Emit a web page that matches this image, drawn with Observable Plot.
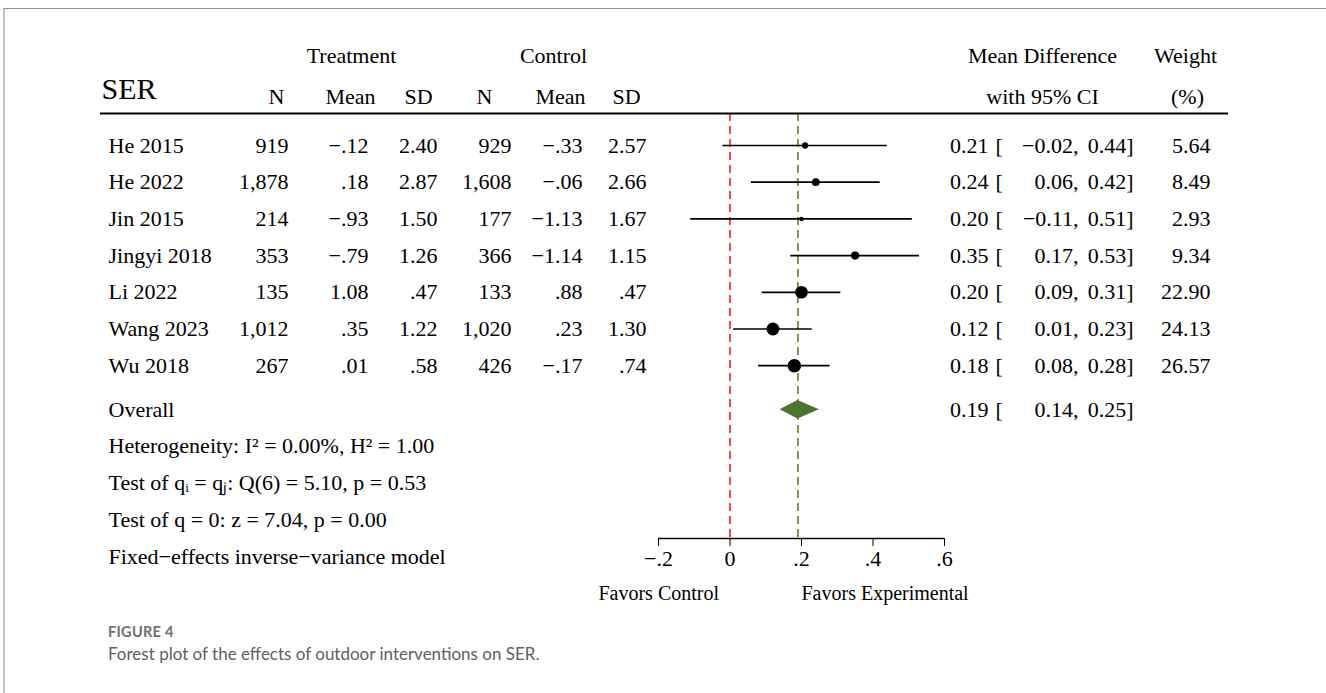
<!DOCTYPE html>
<html>
<head>
<meta charset="utf-8">
<script src="https://cdn.jsdelivr.net/npm/d3@7"></script>
<script src="https://cdn.jsdelivr.net/npm/@observablehq/plot@0.6"></script>
<style>
  html, body { margin: 0; padding: 0; background: #fff; }
  body { width: 1326px; height: 693px; position: relative; overflow: hidden; }
  #frame { position: absolute; left: 3px; top: 8px; width: 1323px; height: 685px;
           border-top: 1.5px solid #8e8e8e; border-left: 2px solid #c4c4c4; box-sizing: border-box; }
  #chart { position: absolute; left: 0; top: 0; }
  .fig { position: absolute; left: 108px; font-family: Lato, "Open Sans", sans-serif; color: #6a6a6a; }
  #figlabel { top: 623px; font-size: 14.5px; font-weight: 700; letter-spacing: 0.3px; color: #707070; }
  #figtext { top: 643px; font-size: 17px; color: #606060; }
</style>
</head>
<body>
<div id="frame"></div>
<div id="chart"></div>
<div class="fig" id="figlabel">FIGURE 4</div>
<div class="fig" id="figtext">Forest plot of the effects of outdoor interventions on SER.</div>
<script>
// ---------- data ----------
const studies = ["He 2015", "He 2022", "Jin 2015", "Jingyi 2018", "Li 2022", "Wang 2023", "Wu 2018"];
const treatN    = [919, 1878, 214, 353, 135, 1012, 267];
const treatMean = [-0.12, 0.18, -0.93, -0.79, 1.08, 0.35, 0.01];
const treatSD   = [2.40, 2.87, 1.50, 1.26, 0.47, 1.22, 0.58];
const ctrlN     = [929, 1608, 177, 366, 133, 1020, 426];
const ctrlMean  = [-0.33, -0.06, -1.13, -1.14, 0.88, 0.23, -0.17];
const ctrlSD    = [2.57, 2.66, 1.67, 1.15, 0.47, 1.30, 0.74];
const meanDiff  = [0.21, 0.24, 0.20, 0.35, 0.20, 0.12, 0.18];
const ciLow     = [-0.02, 0.06, -0.11, 0.17, 0.09, 0.01, 0.08];
const ciHigh    = [0.44, 0.42, 0.51, 0.53, 0.31, 0.23, 0.28];
const weights   = [5.64, 8.49, 2.93, 9.34, 22.90, 24.13, 26.57];
const overallMD = 0.19, overallLow = 0.14, overallHigh = 0.25;
const xTicks = [-0.2, 0, 0.2, 0.4, 0.6];
const statsLines = [
  "Heterogeneity: I\u00B2 = 0.00%, H\u00B2 = 1.00",
  "Test of q\u1D62 = q\u2C7C: Q(6) = 5.10, p = 0.53",
  "Test of q = 0: z = 7.04, p = 0.00",
  "Fixed\u2212effects inverse\u2212variance model"
];

// ---------- formatting ----------
const minus = "\u2212";
const fStata = v => (v < 0 ? minus : "") + Math.abs(v).toFixed(2).replace(/^0\./, ".");
const fFull = v => (v < 0 ? minus : "") + Math.abs(v).toFixed(2);
const fN = d3.format(",");
const fTick = v => v === 0 ? "0" : (v < 0 ? minus : "") + String(Math.abs(v)).replace(/^0/, "");

// ---------- layout ----------
const W = 1326, H = 610;
const mL = 658, mR = W - 944, mT = 113, mB = H - 538;
const firstRowY = 145, rowStep = 36.7;
const yTop = -(firstRowY - mT) / rowStep;
const yBot = (H - mB - firstRowY) / rowStep;
const overallRow = 7.2;
const statsRow0 = 8.2;
const colRight = {tN: 288, tM: 368, tS: 437, cN: 511, cM: 582, cS: 646, es: 988, lo: 1078, hi: 1133, w: 1210};
const bracketLeft = 995, labelLeft = 108;
const dxp = px => px - mL;

const rows = studies.map((s, i) => ({
  study: s, row: i,
  tN: fN(treatN[i]), tM: fStata(treatMean[i]), tS: fStata(treatSD[i]),
  cN: fN(ctrlN[i]), cM: fStata(ctrlMean[i]), cS: fStata(ctrlSD[i]),
  md: meanDiff[i], lo: ciLow[i], hi: ciHigh[i], w: weights[i],
  es: fFull(meanDiff[i]), loT: fFull(ciLow[i]) + ",", hiT: fFull(ciHigh[i]) + "]", wT: weights[i].toFixed(2)
}));
const overallRowData = [{row: overallRow, es: fFull(overallMD), loT: fFull(overallLow) + ",", hiT: fFull(overallHigh) + "]"}];
const statsData = statsLines.map((t, i) => ({t, row: statsRow0 + i}));
const diamondHalf = 0.25;
const diamond = [
  {x: overallLow, y1: overallRow, y2: overallRow},
  {x: overallMD, y1: overallRow - diamondHalf, y2: overallRow + diamondHalf},
  {x: overallHigh, y1: overallRow, y2: overallRow}
];

const fs = 22;
const col = (key, edge, data = rows) => Plot.text(data, {text: key, y: "row", frameAnchor: "left", dx: dxp(edge), textAnchor: "end", fontSize: fs});
const head = (t, cx, cy, anchor = "middle", size = fs) => Plot.text([t], {frameAnchor: "top-left", lineAnchor: "middle", dx: dxp(cx), dy: cy - mT, textAnchor: anchor, fontSize: size});

const plot = Plot.plot({
  width: W, height: H,
  marginLeft: mL, marginRight: mR, marginTop: mT, marginBottom: mB,
  style: {fontFamily: "'Liberation Serif', 'Times New Roman', serif", fontSize: "22px", background: "transparent", color: "#000", overflow: "visible"},
  x: {domain: [-0.2, 0.6], ticks: xTicks, tickFormat: fTick, tickSize: 8, tickPadding: 4, label: null},
  y: {domain: [yBot, yTop], axis: null},
  r: {range: [0, 6.8]},
  marks: [
    // reference lines
    Plot.ruleX([0], {stroke: "#ff1a1a", strokeWidth: 1.6, strokeDasharray: "8,5"}),
    Plot.ruleX([overallMD], {stroke: "#5b7f2f", strokeWidth: 1.6, strokeDasharray: "8,5"}),
    // header rule
    Plot.ruleY([yTop], {stroke: "#000", strokeWidth: 2, insetLeft: -(mL - 100), insetRight: -(1228 - (W - mR))}),
    // axis line
    Plot.ruleY([yBot], {stroke: "#000", strokeWidth: 1.3}),
    // CIs and points
    Plot.ruleY(rows, {y: "row", x1: "lo", x2: "hi", stroke: "#000", strokeWidth: 1.7}),
    Plot.dot(rows, {x: "md", y: "row", r: "w", fill: "#000"}),
    Plot.areaY(diamond, {x: "x", y1: "y1", y2: "y2", fill: "#4f7331", curve: "linear"}),
    // left table
    Plot.text(rows, {text: "study", y: "row", frameAnchor: "left", dx: dxp(labelLeft), textAnchor: "start", fontSize: fs}),
    col("tN", colRight.tN), col("tM", colRight.tM), col("tS", colRight.tS),
    col("cN", colRight.cN), col("cM", colRight.cM), col("cS", colRight.cS),
    // right table
    col("es", colRight.es), col("loT", colRight.lo), col("hiT", colRight.hi), col("wT", colRight.w),
    Plot.text(rows, {text: () => "[", y: "row", frameAnchor: "left", dx: dxp(bracketLeft), textAnchor: "start", fontSize: fs}),
    // overall row
    Plot.text(["Overall"], {y: () => overallRow, frameAnchor: "left", dx: dxp(labelLeft), textAnchor: "start", fontSize: fs}),
    col("es", colRight.es, overallRowData), col("loT", colRight.lo, overallRowData), col("hiT", colRight.hi, overallRowData),
    Plot.text(overallRowData, {text: () => "[", y: "row", frameAnchor: "left", dx: dxp(bracketLeft), textAnchor: "start", fontSize: fs}),
    // stats
    Plot.text(statsData, {text: "t", y: "row", frameAnchor: "left", dx: dxp(labelLeft), textAnchor: "start", fontSize: fs}),
    // headers
    head("Treatment", 351, 55), head("Control", 553, 55),
    head("SER", 101, 89, "start", 30),
    head("N", 276, 96), head("Mean", 350, 96), head("SD", 418, 96),
    head("N", 484, 96), head("Mean", 560, 96), head("SD", 626, 96),
    head("Mean Difference", 1042, 55), head("with 95% CI", 1042, 96),
    head("Weight", 1185, 55), head("(%)", 1187, 96),
    // favors labels
    Plot.text(["Favors Control"], {x: () => 0, frameAnchor: "bottom", lineAnchor: "middle", dy: 55, dx: -11, textAnchor: "end", fontSize: 20}),
    Plot.text(["Favors Experimental"], {x: () => 0.2, frameAnchor: "bottom", lineAnchor: "middle", dy: 55, dx: 0, textAnchor: "start", fontSize: 20})
  ]
});
document.getElementById("chart").appendChild(plot);
</script>
</body>
</html>
